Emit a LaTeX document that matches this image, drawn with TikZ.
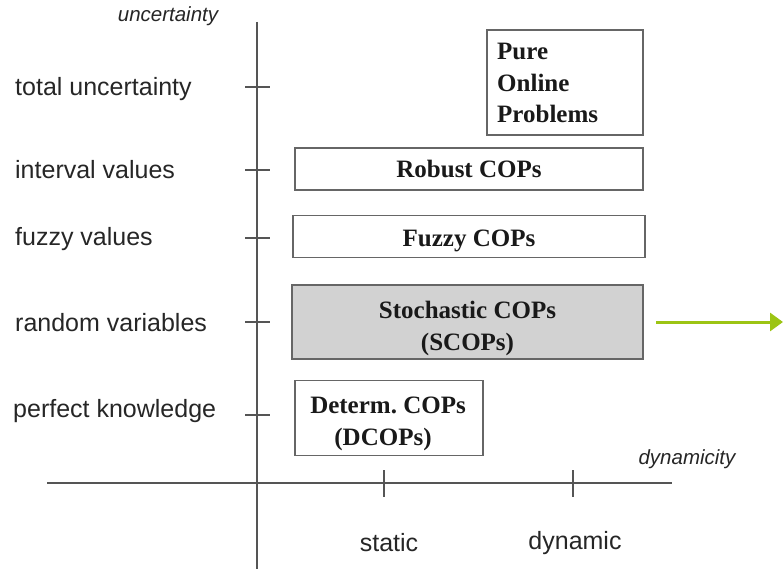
\documentclass[tikz,border=0pt]{standalone}
\usepackage{fontspec}
\setmainfont{Liberation Serif}
\setsansfont{Liberation Sans}
\usetikzlibrary{arrows.meta}
\definecolor{axisgray}{HTML}{555555}
\definecolor{boxgray}{HTML}{666666}
\definecolor{fillgray}{HTML}{D2D2D2}
\definecolor{arrowgreen}{HTML}{9CC414}
\begin{document}
\frenchspacing
\begin{tikzpicture}[x=1pt,y=-1pt,
  axisline/.style={draw=axisgray,line width=1.1pt},
  lbl/.style={font=\sffamily\fontsize{25}{28}\selectfont,text=black!85,inner sep=0pt},
  axlbl/.style={font=\sffamily\itshape\fontsize{20.5}{24}\selectfont,text=black!85,inner sep=0pt},
  probbox/.style={draw=boxgray,line width=1.3pt,inner sep=0pt},
  boxtxt/.style={font=\bfseries\fontsize{25}{32}\selectfont,text=black!90,align=center,inner sep=0pt,anchor=base}
]
\useasboundingbox (0,0) rectangle (783,569);
% axes
\coordinate (ytop) at (257,22);
\coordinate (ybot) at (257,569);
\coordinate (xl) at (47,483);
\coordinate (xr) at (672,483);
\draw[axisline] (ytop) -- (ybot);
\draw[axisline] (xl) -- (xr);
% vertical ticks
\foreach \yy/\nm in {87/t1,170/t2,238/t3,322/t4,415/t5}{
  \coordinate (\nm a) at (245,\yy);
  \coordinate (\nm b) at (270,\yy);
  \draw[axisline] (\nm a) -- (\nm b);
}
% horizontal ticks
\foreach \xx/\nm in {384/h1,573/h2}{
  \coordinate (\nm a) at (\xx,470);
  \coordinate (\nm b) at (\xx,497);
  \draw[axisline] (\nm a) -- (\nm b);
}
% axis labels
\node[axlbl] (unc) at (168,16) {uncertainty};
\node[axlbl] (dyn) at (687,459) {dynamicity};
\node[lbl,anchor=west] (l1) at (15,89) {total uncertainty};
\node[lbl,anchor=west] (l2) at (15,170) {interval values};
\node[lbl,anchor=west] (l3) at (15,239) {fuzzy values};
\node[lbl,anchor=west] (l4) at (15,323) {random variables};
\node[lbl,anchor=west] (l5) at (13,411) {perfect knowledge};
\node[lbl] (st) at (389,543) {static};
\node[lbl] (dy) at (575,543) {dynamic};
% boxes
\node[probbox,minimum width=156pt,minimum height=105pt] (pure) at (565,82.5) {};
\node[boxtxt,align=left,anchor=base west] (puretxt) at (497,123) {Pure\\[-0.5pt]Online\\[-0.5pt]Problems};
\node[probbox,minimum width=348pt,minimum height=42pt] (robust) at (469,169) {};
\node[boxtxt] (robusttxt) at (469,178) {Robust COPs};
\node[probbox,minimum width=352pt,minimum height=42pt] (fuzzy) at (469,236.5) {};
\node[boxtxt] (fuzzytxt) at (469,246) {Fuzzy COPs};
\node[probbox,fill=fillgray,minimum width=351pt,minimum height=74pt] (stoch) at (467.5,322) {};
\node[boxtxt] (stochtxt) at (467.5,350) {Stochastic COPs\\(SCOPs)};
\node[probbox,minimum width=188pt,minimum height=75pt] (determ) at (389,418) {};
\node[boxtxt] (determtxt) at (388,445) {Determ. COPs\\\hspace*{-10pt}(DCOPs)};
% green arrow
\coordinate (ga) at (656,322);
\coordinate (gb) at (783,322);
\draw[arrowgreen,line width=3pt,-{Triangle[length=13pt,width=18pt]}] (ga) -- (gb);
\end{tikzpicture}
\end{document}
